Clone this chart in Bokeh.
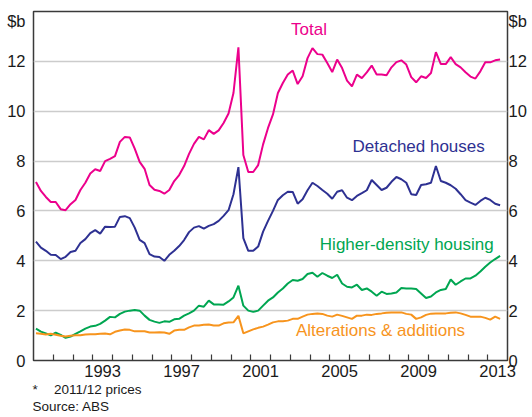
from bokeh.plotting import figure
from bokeh.models import Range1d, LinearAxis, FixedTicker, Title, ColumnDataSource
from bokeh.embed import file_html
from bokeh.resources import INLINE
from bokeh.core.properties import value

# ---- data (A$b, 2011/12 prices, quarterly from Mar-1990) ----
first_quarter_mid = 1990.125
total = [7.16, 6.8, 6.56, 6.36, 6.36, 6.07, 6.03, 6.27, 6.44, 6.84, 7.13, 7.5,
         7.67, 7.6, 8.0, 8.09, 8.2, 8.77, 8.97, 8.95, 8.5, 7.97, 7.69, 7.04,
         6.85, 6.8, 6.69, 6.84, 7.2, 7.44, 7.8, 8.29, 8.69, 8.97, 8.87, 9.24,
         9.09, 9.23, 9.53, 9.91, 10.73, 12.56, 8.24, 7.56, 7.56, 7.84, 8.67, 9.33,
         9.87, 10.73, 11.13, 11.47, 11.63, 11.09, 11.4, 12.13, 12.53, 12.29, 12.27, 11.93,
         11.57, 12.07, 11.73, 11.23, 11.0, 11.47, 11.33, 11.56, 11.83, 11.47, 11.47, 11.44,
         11.76, 11.97, 12.04, 11.87, 11.37, 11.16, 11.4, 11.33, 11.53, 12.37, 11.89, 11.89,
         12.17, 11.89, 11.76, 11.56, 11.39, 11.31, 11.6, 11.96, 11.96, 12.04, 12.07]
detached = [4.77, 4.53, 4.4, 4.24, 4.23, 4.07, 4.16, 4.35, 4.4, 4.71, 4.87, 5.11,
            5.23, 5.09, 5.37, 5.36, 5.37, 5.76, 5.79, 5.71, 5.33, 4.84, 4.71, 4.27,
            4.17, 4.15, 4.0, 4.24, 4.4, 4.59, 4.83, 5.15, 5.33, 5.39, 5.29, 5.4,
            5.47, 5.6, 5.8, 6.03, 6.67, 7.76, 4.91, 4.4, 4.4, 4.57, 5.17, 5.6,
            6.0, 6.44, 6.63, 6.77, 6.76, 6.29, 6.47, 6.83, 7.13, 7.0, 6.84, 6.69,
            6.49, 6.77, 6.83, 6.53, 6.43, 6.6, 6.71, 6.83, 7.24, 7.04, 6.84, 6.93,
            7.17, 7.36, 7.27, 7.13, 6.67, 6.64, 7.04, 7.07, 7.13, 7.8, 7.2, 7.13,
            7.03, 6.89, 6.67, 6.43, 6.33, 6.24, 6.4, 6.53, 6.44, 6.29, 6.23]
higher_density = [1.28, 1.16, 1.09, 1.01, 1.12, 1.03, 0.91, 0.96, 1.07, 1.17, 1.28, 1.36,
                  1.39, 1.47, 1.6, 1.75, 1.73, 1.87, 1.96, 2.0, 2.03, 2.0, 1.8, 1.63,
                  1.56, 1.51, 1.57, 1.55, 1.65, 1.67, 1.8, 1.89, 2.0, 2.2, 2.16, 2.4,
                  2.25, 2.25, 2.24, 2.37, 2.53, 3.0, 2.2, 2.0, 1.95, 2.0, 2.2, 2.4,
                  2.53, 2.73, 2.89, 3.09, 3.23, 3.2, 3.27, 3.47, 3.52, 3.36, 3.51, 3.4,
                  3.31, 3.44, 3.09, 2.96, 2.93, 3.04, 2.83, 2.89, 2.76, 2.6, 2.76, 2.67,
                  2.69, 2.73, 2.91, 2.89, 2.89, 2.87, 2.69, 2.51, 2.57, 2.73, 2.83, 2.87,
                  3.25, 3.04, 3.17, 3.29, 3.29, 3.4, 3.57, 3.76, 3.93, 4.07, 4.2]
alterations = [1.09, 1.07, 1.04, 1.07, 1.03, 0.99, 0.96, 0.99, 1.01, 1.01, 1.04, 1.05,
               1.05, 1.07, 1.08, 1.05, 1.15, 1.2, 1.24, 1.23, 1.17, 1.17, 1.17, 1.12,
               1.12, 1.13, 1.12, 1.07, 1.2, 1.23, 1.23, 1.33, 1.4, 1.4, 1.43, 1.44,
               1.4, 1.4, 1.49, 1.52, 1.53, 1.79, 1.09, 1.17, 1.25, 1.31, 1.36, 1.44,
               1.53, 1.57, 1.57, 1.6, 1.67, 1.67, 1.76, 1.84, 1.87, 1.89, 1.87, 1.8,
               1.76, 1.84, 1.79, 1.73, 1.67, 1.8, 1.8, 1.84, 1.83, 1.87, 1.89, 1.92,
               1.93, 1.93, 1.93, 1.87, 1.84, 1.67, 1.73, 1.83, 1.88, 1.89, 1.89, 1.89,
               1.92, 1.93, 1.89, 1.83, 1.76, 1.76, 1.76, 1.71, 1.64, 1.76, 1.67]

x_label_years = [1993, 1997, 2001, 2005, 2009, 2013]
x_tick_years = list(range(1991, 2014))
y_tick_values = [0, 2, 4, 6, 8, 10, 12]
y_unit_label = "$b"

series_names = ["Total", "Detached houses", "Higher-density housing", "Alterations & additions"]
series_colors = ["#EC008C", "#2E3192", "#00A651", "#F7941D"]
# label anchor positions (data coords)
label_x = [2003.95, 2009.5, 2008.9, 2007.57]
label_y = [13.26, 8.6, 4.66, 1.22]

footnotes = ["*\u2002\u2002\u20092011/12 prices", "Source: ABS"]

n = len(total)
quarters = [first_quarter_mid + 0.25 * i for i in range(n)]

FONT = "Liberation Sans"

p = figure(width=532, height=417, x_range=Range1d(1990, 2014), y_range=Range1d(0, 14),
           output_backend="svg", toolbar_location=None,
           min_border_left=33, min_border_right=25, min_border_top=11, min_border_bottom=57)
p.background_fill_color = "white"
p.border_fill_color = "white"
p.outline_line_color = "#3a3a3a"
p.outline_line_width = 1.5

# grid
p.xgrid.visible = False
p.ygrid.ticker = FixedTicker(ticks=[v for v in y_tick_values if v > 0])
p.ygrid.grid_line_color = "#cccccc"
p.ygrid.grid_line_width = 1.5

# x axis
xa = p.xaxis[0]
xa.ticker = FixedTicker(ticks=[yr + 0.5 for yr in x_label_years], minor_ticks=x_tick_years)
xa.major_label_overrides = {yr + 0.5: str(yr) for yr in x_label_years}
xa.major_tick_in = 0
xa.major_tick_out = 0
xa.minor_tick_in = 6
xa.minor_tick_out = 0
xa.minor_tick_line_color = "#3a3a3a"
xa.minor_tick_line_width = 1.2
xa.axis_line_color = None
xa.major_label_text_font = FONT
xa.major_label_text_font_size = "16.5px"
xa.major_label_text_color = "#1a1a1a"
xa.major_label_standoff = 4

# y axes
y_ticks_all = y_tick_values + [13.6]
y_overrides = {v: str(v) for v in y_tick_values}
y_overrides[13.6] = y_unit_label

ra = LinearAxis()
p.add_layout(ra, "right")
for ax, standoff in ((p.yaxis[0], 8), (ra, 1)):
    ax.ticker = FixedTicker(ticks=y_ticks_all)
    ax.major_label_overrides = y_overrides
    ax.major_tick_in = 0
    ax.major_tick_out = 0
    ax.minor_tick_in = 0
    ax.minor_tick_out = 0
    ax.axis_line_color = None
    ax.major_label_text_font = FONT
    ax.major_label_text_font_size = "16.5px"
    ax.major_label_text_color = "#1a1a1a"
    ax.major_label_standoff = standoff

# lines
for vals, col in zip([total, detached, higher_density, alterations], series_colors):
    p.line(quarters, vals, line_color=col, line_width=2)

# series labels
lab_src = ColumnDataSource(dict(x=label_x, y=label_y, text=series_names, color=series_colors))
p.text(x="x", y="y", text="text", text_color="color", source=lab_src,
       text_align="center", text_baseline="middle",
       text_font=value(FONT), text_font_size=value("17px"))

# footnotes below the axis
for txt in footnotes:
    p.add_layout(Title(text=txt, align="left", offset=-1, standoff=0,
                       text_font=FONT, text_font_size="13.5px", text_font_style="normal",
                       text_color="#1a1a1a"), "below")

open("out.html", "w").write(file_html(p, INLINE))
